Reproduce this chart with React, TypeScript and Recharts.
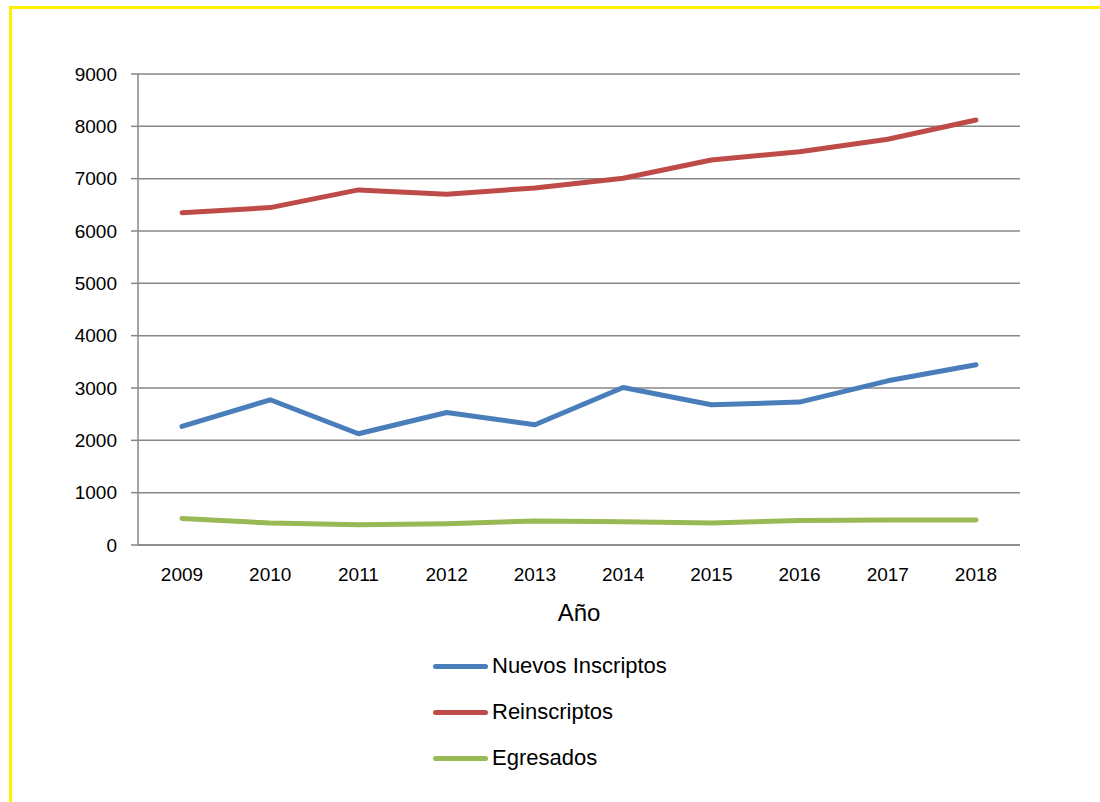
import React from 'react';
import { LineChart, Line, XAxis, YAxis, CartesianGrid, Legend, Label } from 'recharts';

const years = ['2009', '2010', '2011', '2012', '2013', '2014', '2015', '2016', '2017', '2018'];
const nuevosInscriptos = [2265, 2775, 2125, 2532, 2297, 3010, 2679, 2731, 3137, 3443];
const reinscriptos = [6351, 6447, 6785, 6702, 6823, 7008, 7357, 7516, 7753, 8121];
const egresados = [508, 420, 388, 407, 460, 445, 420, 468, 477, 480];
const yTicks = [0, 1000, 2000, 3000, 4000, 5000, 6000, 7000, 8000, 9000];

const series = [
  { key: 'nuevos', name: 'Nuevos Inscriptos', color: '#4A7EBB' },
  { key: 'reins', name: 'Reinscriptos', color: '#BE4B48' },
  { key: 'egr', name: 'Egresados', color: '#98B954' },
];

const data = years.map((y, i) => ({
  year: y,
  nuevos: nuevosInscriptos[i],
  reins: reinscriptos[i],
  egr: egresados[i],
}));

const FONT = '"Liberation Sans", Arial, sans-serif';

const LegendContent = () => (
  <div style={{ fontFamily: FONT, fontSize: 22, color: '#000' }}>
    {series.map((s) => (
      <div key={s.key} style={{ display: 'flex', alignItems: 'center', height: 46 }}>
        <div style={{ width: 55, height: 5, borderRadius: 3, background: s.color, marginRight: 4 }} />
        <span>{s.name}</span>
      </div>
    ))}
  </div>
);

export default function App() {
  return (
    <div style={{ position: 'absolute', left: 0, top: 0, width: 1100, height: 802, background: '#fff' }}>
      <div
        style={{
          position: 'absolute',
          left: 9,
          top: 6,
          width: 1110,
          height: 830,
          border: '3px solid #FFF100',
          boxSizing: 'border-box',
        }}
      />
      <div style={{ position: 'absolute', left: 0, top: 0 }}>
        <LineChart
          width={1100}
          height={802}
          data={data}
          margin={{ top: 74, right: 80, left: 0, bottom: 177 }}
        >
          <CartesianGrid vertical={false} stroke="#878787" strokeWidth={1.5} />
          <XAxis
            dataKey="year"
            padding={{ left: 44, right: 44 }}
            height={80}
            tickLine={false}
            tickSize={6}
            tickMargin={17}
            axisLine={{ stroke: '#878787', strokeWidth: 1.5 }}
            tick={{ fill: '#000', fontSize: 19, fontFamily: FONT }}
          >
            <Label
              value="Año"
              position="insideBottom"
              offset={4}
              style={{ fill: '#000', fontSize: 24, fontFamily: FONT }}
            />
          </XAxis>
          <YAxis
            width={138}
            domain={[0, 9000]}
            ticks={yTicks}
            interval={0}
            tickSize={7}
            tickMargin={14}
            tickLine={{ stroke: '#878787', strokeWidth: 1.5 }}
            axisLine={{ stroke: '#878787', strokeWidth: 1.5 }}
            tick={{ fill: '#000', fontSize: 19, fontFamily: FONT }}
          />
          {series.map((s) => (
            <Line
              key={s.key}
              type="linear"
              dataKey={s.key}
              name={s.name}
              stroke={s.color}
              strokeWidth={5}
              strokeLinecap="round"
              strokeLinejoin="round"
              dot={false}
              activeDot={false}
              isAnimationActive={false}
            />
          ))}
          <Legend
            layout="vertical"
            align="center"
            verticalAlign="middle"
            content={<LegendContent />}
            wrapperStyle={{ top: 643, left: 433, width: 300, height: 140 }}
          />
        </LineChart>
      </div>
    </div>
  );
}
